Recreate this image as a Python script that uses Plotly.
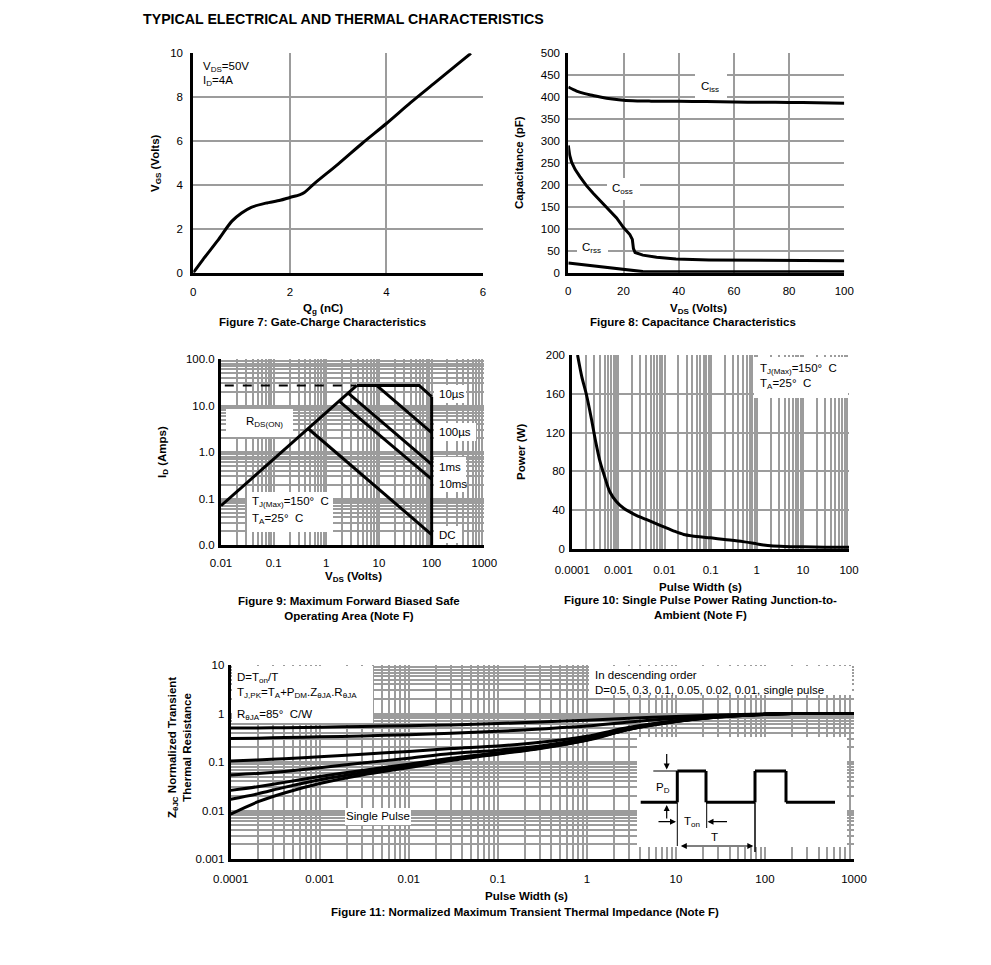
import plotly.graph_objects as go

W, H = 991, 965
FONT = "Liberation Sans, Arial, sans-serif"
GRID = "#9c9c9c"

# ---------------- data ----------------
# Figure 7: Gate charge
qg_nc = [0, 0.2, 0.5, 0.8, 1.0, 1.2, 1.5, 1.8, 2.0, 2.2, 2.3, 2.5, 3.0, 3.5, 4.0, 4.5, 5.0, 5.5, 5.75]
vgs_v = [0, 0.6, 1.45, 2.35, 2.72, 2.98, 3.17, 3.3, 3.43, 3.55, 3.65, 4.05, 4.95, 5.9, 6.8, 7.75, 8.65, 9.55, 10.0]

# Figure 8: Capacitance
vds_ciss = [0, 3, 6, 9, 12, 16, 20, 25, 30, 40, 50, 60, 70, 80, 90, 100]
ciss_pf = [423, 414, 408, 404, 400, 396, 393, 391.5, 391, 390.5, 390, 389, 388.5, 388, 387.5, 386]
vds_coss = [0, 0.5, 1.2, 2.5, 4.2, 6.5, 9, 12, 15, 17.5, 20, 22.3, 23.2, 23.6, 24.2, 27, 32, 39, 51, 70, 100]
coss_pf = [290, 268, 252, 235, 219, 199, 181, 162, 143, 125, 103, 87, 76, 55, 46, 40, 35, 31, 29, 28, 27]
vds_crss = [0, 5, 10, 15, 20, 23, 25, 27, 40, 60, 80, 100]
crss_pf = [22, 18.5, 15, 12, 8.5, 6, 3.5, 2.5, 2.3, 2.3, 2.3, 2.3]

# Figure 9: Safe operating area
rds_v = [0.01, 3.8]
rds_a = [0.07, 27]
lim_dash_v = [0.0118, 3.6]
lim_dash_a = [27, 27]
soa_10us_v = [3.8, 58, 100]
soa_10us_a = [27, 27, 15.5]
soa_100us_v = [9, 100]
soa_100us_a = [27, 2.6]
soa_1ms_v = [2.6, 100]
soa_1ms_a = [18.5, 0.54]
soa_10ms_v = [1.75, 100]
soa_10ms_a = [12.4, 0.26]
soa_dc_v = [0.45, 100]
soa_dc_a = [3.2, 0.0168]
vmax_v = [100, 100]
vmax_a = [15.5, 0.01]

# Figure 10: Single pulse power
pulse_s = [1.3e-4, 1.6e-4, 2.05e-4, 2.6e-4, 3.2e-4, 4e-4, 5e-4, 6.5e-4, 9e-4, 1.3e-3, 1.8e-3,
           2.5e-3, 4e-3, 6e-3, 1e-2, 1.6e-2, 2.6e-2, 4e-2, 0.1, 0.2, 0.5, 1, 1.4, 2, 4, 10, 30, 100]
power_w = [200, 178, 158, 134, 111, 90, 75, 59, 49, 42, 38,
           34.5, 30.5, 27, 22.5, 18.5, 15, 13.5, 11.5, 9.8, 7.6, 5.3, 4.2, 3.3, 2.6, 2.2, 1.9, 1.7]

# Figure 11: Transient thermal impedance
zth_t = [1e-4, 2e-4, 4e-4, 1e-3, 3e-3, 1e-2, 3e-2, 0.1, 0.3, 1, 3, 10, 30, 100, 200, 400, 1000]
zth_d05 = [0.50, 0.505, 0.51, 0.52, 0.54, 0.56, 0.58, 0.62, 0.67, 0.73, 0.80, 0.87, 0.93, 0.98, 1.0, 1.0, 1.0]
zth_d03 = [0.305, 0.31, 0.32, 0.33, 0.345, 0.365, 0.39, 0.43, 0.48, 0.55, 0.67, 0.80, 0.90, 0.97, 1.0, 1.0, 1.0]
zth_d01 = [0.105, 0.11, 0.117, 0.128, 0.145, 0.165, 0.19, 0.215, 0.255, 0.34, 0.52, 0.71, 0.87, 0.96, 1.0, 1.0, 1.0]
zth_d005 = [0.054, 0.058, 0.064, 0.076, 0.095, 0.12, 0.15, 0.175, 0.215, 0.31, 0.50, 0.70, 0.86, 0.96, 1.0, 1.0, 1.0]
zth_d002 = [0.026, 0.031, 0.038, 0.05, 0.067, 0.09, 0.12, 0.155, 0.2, 0.29, 0.48, 0.69, 0.855, 0.96, 1.0, 1.0, 1.0]
zth_d001 = [0.017, 0.022, 0.03, 0.043, 0.06, 0.083, 0.113, 0.15, 0.195, 0.285, 0.475, 0.685, 0.85, 0.96, 1.0, 1.0, 1.0]
zth_single = [0.0084, 0.015, 0.023, 0.036, 0.054, 0.077, 0.107, 0.145, 0.19, 0.28, 0.47, 0.68, 0.85, 0.96, 1.0, 1.0, 1.0]

# tick labels
soa_x_ticks = ["0.01", "0.1", "1", "10", "100", "1000"]
soa_y_ticks = ["0.0", "0.1", "1.0", "10.0", "100.0"]
pw_x_ticks = ["0.0001", "0.001", "0.01", "0.1", "1", "10", "100"]
zth_x_ticks = ["0.0001", "0.001", "0.01", "0.1", "1", "10", "100", "1000"]
zth_y_ticks = ["0.001", "0.01", "0.1", "1", "10"]

# ---------------- layout helpers ----------------
PANEL = {
    1: (193.3, 483.0, 53.3, 272.7),
    2: (568.3, 844.3, 53.3, 272.7),
    3: (221.0, 484.3, 359.0, 545.0),
    4: (572.3, 849.0, 355.0, 549.0),
    5: (230.7, 854.0, 665.0, 859.0),
}
RANGES = {
    1: ([0, 6], [0, 10], False, False),
    2: ([0, 100], [0, 500], False, False),
    3: ([-2, 3], [-2, 2], True, True),
    4: ([-4, 2], [0, 200], True, False),
    5: ([-4, 3], [-3, 1], True, True),
}


def pxp(x):
    return x / W


def pyp(y):
    return 1 - y / H


def dom(k):
    l, r, t, b = PANEL[k]
    return [pxp(l), pxp(r)], [pyp(b), pyp(t)]


def axn(k):
    return ("x", "y") if k == 1 else ("x%d" % k, "y%d" % k)


def to_data(k, x, y):
    l, r, t, b = PANEL[k]
    xr, yr, xlog, ylog = RANGES[k]
    fx = xr[0] + (x - l) / (r - l) * (xr[1] - xr[0])
    fy = yr[0] + (b - y) / (b - t) * (yr[1] - yr[0])
    return (10 ** fx if xlog else fx), (10 ** fy if ylog else fy)


def minor_vals(lo, hi):
    return [m * 10 ** e for e in range(lo, hi) for m in range(2, 10)]


def base_axis(**kw):
    d = dict(showline=True, linecolor="black", linewidth=3, mirror=False,
             showgrid=True, gridcolor=GRID, gridwidth=1.5, ticks="",
             zeroline=False, fixedrange=True, automargin=False,
             tickfont=dict(family=FONT, size=11.5, color="black"))
    d.update(kw)
    return d


fig = go.Figure()


def box(k, x0, y0, x1, y1):
    xa, ya = axn(k)
    pts = [to_data(k, x0, y0), to_data(k, x1, y0), to_data(k, x1, y1), to_data(k, x0, y1), to_data(k, x0, y0)]
    fig.add_trace(go.Scatter(x=[p[0] for p in pts], y=[p[1] for p in pts], mode="lines",
                             fill="toself", fillcolor="white", line=dict(width=0, color="white"),
                             xaxis=xa, yaxis=ya, showlegend=False, hoverinfo="skip"))


def line(x, y, k, width=3, dash="solid", shape="linear"):
    xa, ya = axn(k)
    fig.add_trace(go.Scatter(x=x, y=y, mode="lines", xaxis=xa, yaxis=ya,
                             line=dict(color="black", width=width, dash=dash, shape=shape, smoothing=0.8),
                             showlegend=False, hoverinfo="skip"))


def text(x, y, s, size=11.5, bold=False, xanchor="center", angle=0):
    fig.add_annotation(x=pxp(x), y=pyp(y), xref="paper", yref="paper",
                       text=("<b>%s</b>" % s) if bold else s, showarrow=False,
                       xanchor=xanchor, yanchor="middle", textangle=angle,
                       font=dict(family=FONT, size=size, color="black"))


def seg(x0, y0, x1, y1, w=1):
    fig.add_shape(type="line", xref="paper", yref="paper",
                  x0=pxp(x0), y0=pyp(y0), x1=pxp(x1), y1=pyp(y1),
                  line=dict(color="black", width=w), layer="above")


def arrow(xt, yt, ax, ay, both=False):
    fig.add_annotation(x=pxp(xt), y=pyp(yt), xref="paper", yref="paper",
                       ax=ax, ay=ay, text="", showarrow=True, arrowhead=2,
                       arrowsize=1, arrowwidth=1.2, arrowcolor="black",
                       arrowside="end+start" if both else "end",
                       startarrowhead=2, startarrowsize=1)


# ---------------- white label boxes ----------------
box(2, 695, 72, 727, 99)
box(2, 607, 178, 640, 200)
box(2, 577, 240, 608, 258)
box(3, 226, 409, 293, 437)
box(3, 247, 492, 333, 532)
box(3, 434, 385, 466, 403)
box(3, 434, 423, 476, 441)
box(3, 434, 457, 466, 492)
box(3, 434, 526, 462, 543)
box(4, 754, 357, 848, 398)
box(5, 232, 666, 373, 723)
box(5, 589, 666, 852, 695)
box(5, 345, 808, 411, 825)
box(5, 637, 737, 847, 847)

# ---------------- traces ----------------
line(qg_nc, vgs_v, 1, shape="spline")

line(vds_ciss, ciss_pf, 2, shape="spline")
line(vds_coss, coss_pf, 2)
line(vds_crss, crss_pf, 2)

line(lim_dash_v, lim_dash_a, 3, width=2, dash="dash")
line(rds_v, rds_a, 3)
line(soa_10us_v, soa_10us_a, 3)
line(soa_100us_v, soa_100us_a, 3)
line(soa_1ms_v, soa_1ms_a, 3)
line(soa_10ms_v, soa_10ms_a, 3)
line(soa_dc_v, soa_dc_a, 3)
line(vmax_v, vmax_a, 3)

line(pulse_s, power_w, 4, shape="spline")

for zz in [zth_d05, zth_d03, zth_d01, zth_d005, zth_d002, zth_d001, zth_single]:
    line(zth_t, zz, 5, shape="spline")

# ---------------- axes ----------------
dx, dy = dom(1)
fig.update_layout(
    xaxis=base_axis(domain=dx, anchor="y", range=[0, 6], dtick=2, gridwidth=2, ticklabelstandoff=6),
    yaxis=base_axis(domain=dy, anchor="x", range=[0, 10], dtick=2, gridwidth=2, ticklabelstandoff=5),
)
dx, dy = dom(2)
fig.update_layout(
    xaxis2=base_axis(domain=dx, anchor="y2", range=[0, 100], dtick=20, gridwidth=2, ticklabelstandoff=5),
    yaxis2=base_axis(domain=dy, anchor="x2", range=[0, 500], dtick=50, gridwidth=2, ticklabelstandoff=3),
)
dx, dy = dom(3)
fig.update_layout(
    xaxis3=base_axis(domain=dx, anchor="y3", type="log", range=[-2, 3],
                     tickmode="array", tickvals=[0.01, 0.1, 1, 10, 100, 1000], ticktext=soa_x_ticks,
                     minor=dict(tickmode="array", tickvals=minor_vals(-2, 3), showgrid=True,
                                gridcolor=GRID, gridwidth=1.5, ticks=""),
                     ticklabelstandoff=5),
    yaxis3=base_axis(domain=dy, anchor="x3", type="log", range=[-2, 2],
                     tickmode="array", tickvals=[0.01, 0.1, 1, 10, 100], ticktext=soa_y_ticks,
                     minor=dict(tickmode="array", tickvals=minor_vals(-2, 2), showgrid=True,
                                gridcolor=GRID, gridwidth=1.5, ticks=""),
                     ticklabelstandoff=1),
)
dx, dy = dom(4)
fig.update_layout(
    xaxis4=base_axis(domain=dx, anchor="y4", type="log", range=[-4, 2],
                     tickmode="array", tickvals=[1e-4, 1e-3, 1e-2, 0.1, 1, 10, 100], ticktext=pw_x_ticks,
                     minor=dict(tickmode="array", tickvals=minor_vals(-4, 2), showgrid=True,
                                gridcolor=GRID, gridwidth=1.5, ticks=""),
                     ticklabelstandoff=8),
    yaxis4=base_axis(domain=dy, anchor="x4", range=[0, 200], dtick=40, ticklabelstandoff=2),
)
dx, dy = dom(5)
fig.update_layout(
    xaxis5=base_axis(domain=dx, anchor="y5", type="log", range=[-4, 3],
                     tickmode="array", tickvals=[1e-4, 1e-3, 1e-2, 0.1, 1, 10, 100, 1000], ticktext=zth_x_ticks,
                     minor=dict(tickmode="array", tickvals=minor_vals(-4, 3), showgrid=True,
                                gridcolor=GRID, gridwidth=1.5, ticks=""),
                     ticklabelstandoff=7),
    yaxis5=base_axis(domain=dy, anchor="x5", type="log", range=[-3, 1],
                     tickmode="array", tickvals=[0.001, 0.01, 0.1, 1, 10], ticktext=zth_y_ticks,
                     minor=dict(tickmode="array", tickvals=minor_vals(-3, 1), showgrid=True,
                                gridcolor=GRID, gridwidth=1.5, ticks=""),
                     ticklabelstandoff=1),
)

# ---------------- texts ----------------
text(141, 18.5, "TYPICAL ELECTRICAL AND THERMAL CHARACTERISTICS", size=14.2, bold=True, xanchor="left")

# Fig 7
text(156, 163, "V<sub>GS</sub> (Volts)", bold=True, angle=-90)
text(323, 309, "Q<sub>g</sub> (nC)", bold=True)
text(322, 322, "Figure 7: Gate-Charge Characteristics", bold=True)
text(201, 67, "V<sub>DS</sub>=50V", xanchor="left")
text(201, 81, "I<sub>D</sub>=4A", xanchor="left")

# Fig 8
text(519, 163, "Capacitance (pF)", bold=True, angle=-90)
text(698, 308.5, "V<sub>DS</sub> (Volts)", bold=True)
text(693, 322, "Figure 8: Capacitance Characteristics", bold=True)
text(710, 86.5, "C<sub>iss</sub>")
text(622, 189, "C<sub>oss</sub>")
text(591, 248, "C<sub>rss</sub>")

# Fig 9
text(163, 452, "I<sub>D</sub> (Amps)", bold=True, angle=-90)
text(353, 577, "V<sub>DS</sub> (Volts)", bold=True)
text(349, 608, "Figure 9: Maximum Forward Biased Safe<br>Operating Area (Note F)", bold=True)
text(244, 422, "R<sub>DS(ON)</sub>", xanchor="left")
text(250, 502, "T<sub>J(Max)</sub>=150°  C", xanchor="left")
text(250, 518.5, "T<sub>A</sub>=25°  C", xanchor="left")
text(437, 394, "10µs", xanchor="left")
text(437, 432, "100µs", xanchor="left")
text(437, 467, "1ms", xanchor="left")
text(437, 483.5, "10ms", xanchor="left")
text(437, 535, "DC", xanchor="left")

# Fig 10
text(521, 452, "Power (W)", bold=True, angle=-90)
text(700, 587, "Pulse Width (s)", bold=True)
text(700, 607, "Figure 10: Single Pulse Power Rating Junction-to-<br>Ambient (Note F)", bold=True)
text(758, 368.5, "T<sub>J(Max)</sub>=150°  C", xanchor="left")
text(758, 383.5, "T<sub>A</sub>=25°  C", xanchor="left")

# Fig 11
text(179, 748, "Z<sub>θJC</sub> Normalized Transient<br>Thermal Resistance", bold=True, angle=-90)
text(526, 896, "Pulse Width (s)", bold=True)
text(525, 912, "Figure 11: Normalized Maximum Transient Thermal Impedance (Note F)", bold=True)
text(235, 678, "D=T<sub>on</sub>/T", xanchor="left")
text(235, 693, "T<sub>J,PK</sub>=T<sub>A</sub>+P<sub>DM</sub>.Z<sub>θJA</sub>.R<sub>θJA</sub>", xanchor="left")
text(235, 715, "R<sub>θJA</sub>=85°  C/W", xanchor="left")
text(593, 675, "In descending order", xanchor="left")
text(593, 689.5, "D=0.5, 0.3, 0.1, 0.05, 0.02, 0.01, single pulse", xanchor="left")
text(378, 816, "Single Pulse")

# inset pulse schematic
seg(640.7, 802.3, 677.3, 802.3, 3)
seg(677.3, 802.3, 677.3, 771, 3)
seg(677.3, 771, 706, 771, 3)
seg(706, 771, 706, 802.3, 3)
seg(706, 802.3, 755, 802.3, 3)
seg(755, 802.3, 755, 771, 3)
seg(755, 771, 786, 771, 3)
seg(786, 771, 786, 802.3, 3)
seg(786, 802.3, 835, 802.3, 3)
seg(653.3, 771, 677.3, 771, 1)
seg(677.3, 802.3, 677.3, 846, 1)
seg(706.7, 802.3, 706.7, 828, 1)
seg(755, 802.3, 755, 852, 1.5)
arrow(666.7, 769.5, 0, -17)
arrow(666.7, 805, 0, 15)
arrow(676, 821.7, -19, 0)
arrow(707.5, 821.7, 21, 0)
arrow(753.3, 846, -74, 0, both=True)
text(663, 788, "P<sub>D</sub>")
text(692, 822, "T<sub>on</sub>")
text(714, 836.5, "T")

fig.update_layout(width=W, height=H, autosize=False, margin=dict(l=0, r=0, t=0, b=0, pad=0, autoexpand=False),
                  paper_bgcolor="white", plot_bgcolor="white",
                  font=dict(family=FONT, size=11.5, color="black"))

fig.write_html("out.html", config={"displayModeBar": False},
               post_script="document.body.style.margin='0';document.documentElement.style.overflow='hidden';")
